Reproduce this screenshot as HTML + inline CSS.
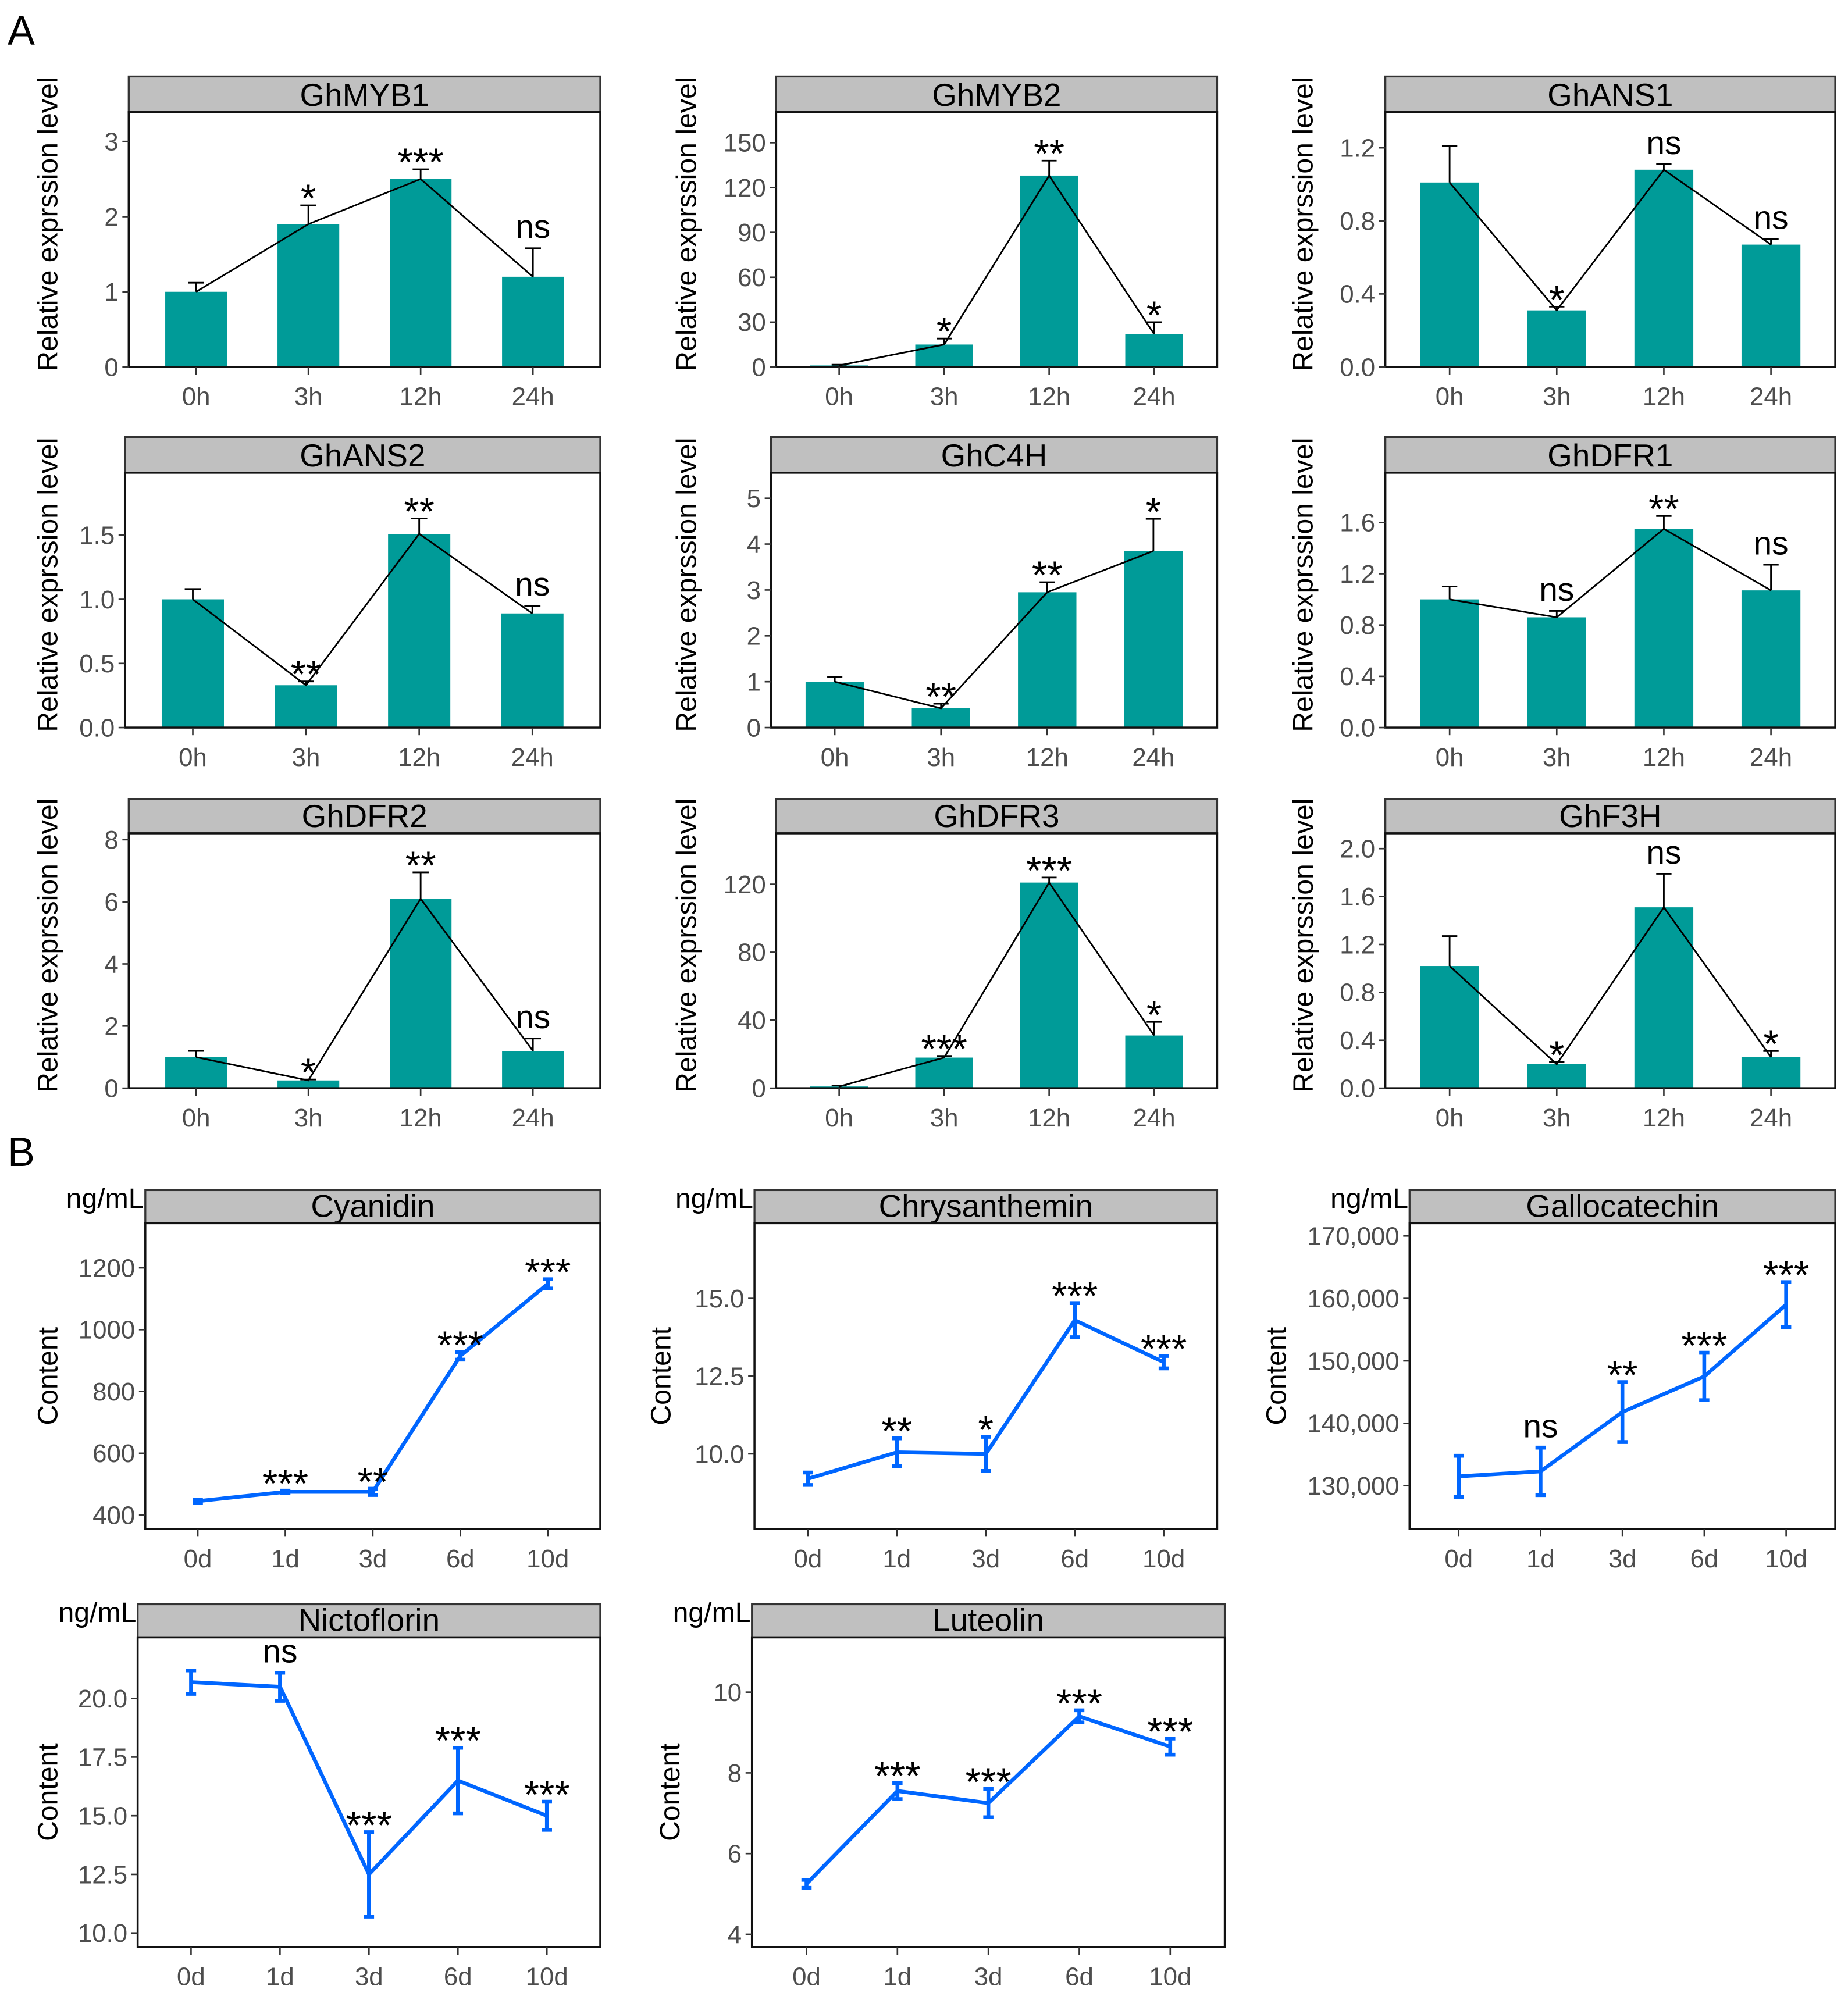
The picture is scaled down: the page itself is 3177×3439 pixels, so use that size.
<!DOCTYPE html>
<html><head><meta charset="utf-8">
<style>
html,body{margin:0;padding:0;background:#fff;}
svg{display:block;}
text{font-family:"Liberation Sans Narrow","Liberation Sans",sans-serif;}
.tick{fill:#4d4d4d;font-size:20px;}
.title{fill:#000;font-size:22px;font-family:"Liberation Sans",sans-serif;}
.strip{fill:#000;font-size:25px;font-family:"Liberation Sans",sans-serif;}
.sig{fill:#000;font-family:"Liberation Sans",sans-serif;}
</style></head>
<body>
<svg id="fig" width="3177" height="3439" viewBox="0 0 1450 1569.6" xmlns="http://www.w3.org/2000/svg">
<rect width="1450" height="1569.6" fill="#fff"/>
<text x="6" y="35" font-size="32" style="font-family:'Liberation Sans',sans-serif">A</text>
<text x="6" y="915" font-size="32" style="font-family:'Liberation Sans',sans-serif">B</text>
</svg>
<script>
// ---- Data: panel A (bar charts) ----
const hourCats = ["0h","3h","12h","24h"];
const dayCats = ["0d","1d","3d","6d","10d"];

const myb1Vals = [1.0,1.9,2.5,1.2];    const myb1Errs = [0.12,0.25,0.13,0.38]; const myb1Sig = ["","*","***","ns"]; const myb1Ticks = [0,1,2,3];
const myb2Vals = [1,15,128,22];        const myb2Errs = [0.5,4,10,8];          const myb2Sig = ["","*","**","*"]; const myb2Ticks = [0,30,60,90,120,150];
const ans1Vals = [1.01,0.31,1.08,0.67];const ans1Errs = [0.2,0.02,0.03,0.03];  const ans1Sig = ["","*","ns","ns"]; const ans1Ticks = [0.0,0.4,0.8,1.2];
const ans2Vals = [1.0,0.33,1.51,0.89]; const ans2Errs = [0.08,0.03,0.12,0.06]; const ans2Sig = ["","**","**","ns"]; const ans2Ticks = [0.0,0.5,1.0,1.5];
const c4hVals = [1.0,0.42,2.95,3.85];  const c4hErrs = [0.1,0.1,0.22,0.7];     const c4hSig = ["","**","**","*"]; const c4hTicks = [0,1,2,3,4,5];
const dfr1Vals = [1.0,0.86,1.55,1.07]; const dfr1Errs = [0.1,0.05,0.1,0.2];    const dfr1Sig = ["","ns","**","ns"]; const dfr1Ticks = [0.0,0.4,0.8,1.2,1.6];
const dfr2Vals = [1.0,0.25,6.1,1.2];   const dfr2Errs = [0.2,0.03,0.85,0.4];   const dfr2Sig = ["","*","**","ns"]; const dfr2Ticks = [0,2,4,6,8];
const dfr3Vals = [1,18,121,31];        const dfr3Errs = [0.5,1,3,8];           const dfr3Sig = ["","***","***","*"]; const dfr3Ticks = [0,40,80,120];
const f3hVals = [1.02,0.2,1.51,0.26];  const f3hErrs = [0.25,0.02,0.28,0.05];  const f3hSig = ["","*","ns","*"]; const f3hTicks = [0.0,0.4,0.8,1.2,1.6,2.0];

// ---- Data: panel B (line charts) ----
const cyaVals = [445,475,475,915,1148];          const cyaErrs = [5,4,10,12,15];          const cyaSig = ["","***","**","***","***"]; const cyaTicks = [400,600,800,1000,1200];
const chrVals = [9.2,10.05,10.0,14.3,12.95];     const chrErrs = [0.2,0.45,0.55,0.55,0.2]; const chrSig = ["","**","*","***","***"]; const chrTicks = [10.0,12.5,15.0];
const galVals = [131500,132300,141800,147500,159000]; const galErrs = [3300,3800,4800,3800,3600]; const galSig = ["","ns","**","***","***"]; const galTicks = [130000,140000,150000,160000,170000];
const nicVals = [20.7,20.5,12.5,16.5,15.0];      const nicErrs = [0.5,0.6,1.8,1.4,0.6];   const nicSig = ["","ns","***","***","***"]; const nicTicks = [10.0,12.5,15.0,17.5,20.0];
const lutVals = [5.25,7.55,7.25,9.4,8.65];       const lutErrs = [0.1,0.2,0.35,0.15,0.2]; const lutSig = ["","***","***","***","***"]; const lutTicks = [4,6,8,10];

const svg = document.getElementById('fig');
const NS = "http://www.w3.org/2000/svg";
function mk(tag, attrs, parent){ const e=document.createElementNS(NS,tag); for(const k in attrs) e.setAttribute(k,attrs[k]); (parent||svg).appendChild(e); return e; }
function fmt(v, dec, comma){ if(comma) return v.toLocaleString('en-US'); return v.toFixed(dec); }

function panel(o){
  const g = mk('g',{});
  
  
  const n = o.cats.length;
  const W = o.x1-o.x0;
  const xs = i => o.x0 + W*(0.6+i)/(n+0.2);
  const ys = v => o.yA + (v-o.vA)*(o.yB-o.yA)/(o.vB-o.vA);
  const st = mk('rect',{x:o.x0,y:o.st,width:W,height:o.y0top-o.st,fill:'#c0c0c0',stroke:'#333','stroke-width':1.5},g);
  
  
  const stt = mk('text',{x:(o.x0+o.x1)/2,y:o.y0top-5,'text-anchor':'middle',class:'strip'},g);
  stt.textContent=o.title;
  
  
  if(o.type==='bar'){
    const bw = W*0.55/(n+0.2);
    o.vals.forEach((v,i)=>{
      const r = mk('rect',{x:xs(i)-bw/2,y:ys(v),width:bw,height:ys(0)-ys(v),fill:'#009b98'},g);
      
      
    });
    o.vals.forEach((v,i)=>{
      const t=ys(v+o.errs[i]);
      mk('line',{x1:xs(i),x2:xs(i),y1:ys(v),y2:t,stroke:'#000','stroke-width':1.3},g);
      mk('line',{x1:xs(i)-bw*0.13,x2:xs(i)+bw*0.13,y1:t,y2:t,stroke:'#000','stroke-width':1.3},g);
    });
    const pl = mk('polyline',{points:o.vals.map((v,i)=>xs(i)+','+ys(v)).join(' '),fill:'none',stroke:'#000','stroke-width':1.3},g);
    
    
  } else {
    const pl = mk('polyline',{points:o.vals.map((v,i)=>xs(i)+','+ys(v)).join(' '),fill:'none',stroke:'#0066ff','stroke-width':3},g);
    
    
    o.vals.forEach((v,i)=>{
      const t=ys(v+o.errs[i]), b=ys(v-o.errs[i]);
      const e = mk('path',{d:`M${xs(i)},${t}V${b}M${xs(i)-4},${t}H${xs(i)+4}M${xs(i)-4},${b}H${xs(i)+4}`,stroke:'#0066ff','stroke-width':3,fill:'none'},g);
      
      
    });
  }
  o.vals.forEach((v,i)=>{
    if(!o.sig[i]) return;
    const isNs = o.sig[i]==='ns';
    const top = ys(v+o.errs[i]);
    const t = mk('text',{x:xs(i),y:isNs?top-8:top+5,'text-anchor':'middle',class:'sig','font-size':isNs?26:31},g);
    t.textContent=o.sig[i];
    
    
  });
  mk('rect',{x:o.x0,y:o.y0top,width:W,height:o.yb-o.y0top,fill:'none',stroke:'#111','stroke-width':1.6},g);
  o.ticks.forEach(v=>{
    const y=ys(v);
    mk('line',{x1:o.x0-5,x2:o.x0,y1:y,y2:y,stroke:'#333','stroke-width':1.2},g);
    const t=mk('text',{x:o.x0-8,y:y+7,'text-anchor':'end',class:'tick'},g);
    t.textContent=fmt(v,o.dec,o.comma);
    
    
  });
  o.cats.forEach((c,i)=>{
    mk('line',{x1:xs(i),x2:xs(i),y1:o.yb,y2:o.yb+6,stroke:'#333','stroke-width':1.2},g);
    const t=mk('text',{x:xs(i),y:o.yb+30,'text-anchor':'middle',class:'tick'},g);
    t.textContent=c;
    
    
  });
  const cy=(o.y0top+o.yb)/2 + (o.type==='bar'?-12:0);
  const yt=mk('text',{x:o.tx,y:cy,'text-anchor':'middle',class:'title',transform:`rotate(-90 ${o.tx} ${cy})`},g);
  yt.textContent=o.type==='bar'?'Relative exprssion level':'Content';
  
  
  if(o.type==='line'){
    const u=mk('text',{x:o.x0-1,y:o.st+14,'text-anchor':'end',class:'title'},g);
    u.textContent='ng/mL';
    
    
  }
}

panel({name:'ghmyb1',title:'GhMYB1',type:'bar',cats:hourCats,vals:myb1Vals,errs:myb1Errs,sig:myb1Sig,ticks:myb1Ticks,dec:0,x0:101,x1:471,st:60,y0top:88,yb:288,vA:0,yA:288,vB:3,yB:111,tx:45});
panel({name:'ghmyb2',title:'GhMYB2',type:'bar',cats:hourCats,vals:myb2Vals,errs:myb2Errs,sig:myb2Sig,ticks:myb2Ticks,dec:0,x0:609,x1:955,st:60,y0top:88,yb:288,vA:0,yA:288,vB:150,yB:112,tx:546});
panel({name:'ghans1',title:'GhANS1',type:'bar',cats:hourCats,vals:ans1Vals,errs:ans1Errs,sig:ans1Sig,ticks:ans1Ticks,dec:1,x0:1087,x1:1440,st:60,y0top:88,yb:288,vA:0,yA:288,vB:1.2,yB:116,tx:1030});
panel({name:'ghans2',title:'GhANS2',type:'bar',cats:hourCats,vals:ans2Vals,errs:ans2Errs,sig:ans2Sig,ticks:ans2Ticks,dec:1,x0:98,x1:471,st:343,y0top:371,yb:571,vA:0,yA:571,vB:1.5,yB:420,tx:45});
panel({name:'ghc4h',title:'GhC4H',type:'bar',cats:hourCats,vals:c4hVals,errs:c4hErrs,sig:c4hSig,ticks:c4hTicks,dec:0,x0:605,x1:955,st:343,y0top:371,yb:571,vA:0,yA:571,vB:5,yB:391,tx:546});
panel({name:'ghdfr1',title:'GhDFR1',type:'bar',cats:hourCats,vals:dfr1Vals,errs:dfr1Errs,sig:dfr1Sig,ticks:dfr1Ticks,dec:1,x0:1087,x1:1440,st:343,y0top:371,yb:571,vA:0,yA:571,vB:1.6,yB:410,tx:1030});
panel({name:'ghdfr2',title:'GhDFR2',type:'bar',cats:hourCats,vals:dfr2Vals,errs:dfr2Errs,sig:dfr2Sig,ticks:dfr2Ticks,dec:0,x0:101,x1:471,st:627,y0top:654,yb:854,vA:0,yA:854,vB:8,yB:659,tx:45});
panel({name:'ghdfr3',title:'GhDFR3',type:'bar',cats:hourCats,vals:dfr3Vals,errs:dfr3Errs,sig:dfr3Sig,ticks:dfr3Ticks,dec:0,x0:609,x1:955,st:627,y0top:654,yb:854,vA:0,yA:854,vB:120,yB:694,tx:546});
panel({name:'ghf3h',title:'GhF3H',type:'bar',cats:hourCats,vals:f3hVals,errs:f3hErrs,sig:f3hSig,ticks:f3hTicks,dec:1,x0:1087,x1:1440,st:627,y0top:654,yb:854,vA:0,yA:854,vB:2.0,yB:666,tx:1030});

panel({name:'cyanidin',title:'Cyanidin',type:'line',cats:dayCats,vals:cyaVals,errs:cyaErrs,sig:cyaSig,ticks:cyaTicks,dec:0,x0:114,x1:471,st:934,y0top:960,yb:1200,vA:400,yA:1189,vB:1200,yB:995,tx:45});
panel({name:'chrysanthemin',title:'Chrysanthemin',type:'line',cats:dayCats,vals:chrVals,errs:chrErrs,sig:chrSig,ticks:chrTicks,dec:1,x0:592,x1:955,st:934,y0top:960,yb:1200,vA:10,yA:1141,vB:15,yB:1019,tx:526});
panel({name:'gallocatechin',title:'Gallocatechin',type:'line',cats:dayCats,vals:galVals,errs:galErrs,sig:galSig,ticks:galTicks,dec:0,comma:true,x0:1106,x1:1440,st:934,y0top:960,yb:1200,vA:130000,yA:1166,vB:170000,yB:970,tx:1009});
panel({name:'nictoflorin',title:'Nictoflorin',type:'line',cats:dayCats,vals:nicVals,errs:nicErrs,sig:nicSig,ticks:nicTicks,dec:1,x0:108,x1:471,st:1259,y0top:1285,yb:1528,vA:10,yA:1517,vB:20,yB:1333,tx:45});
panel({name:'luteolin',title:'Luteolin',type:'line',cats:dayCats,vals:lutVals,errs:lutErrs,sig:lutSig,ticks:lutTicks,dec:0,x0:590,x1:961,st:1259,y0top:1285,yb:1528,vA:4,yA:1518,vB:10,yB:1328,tx:533});
</script>
</body></html>
